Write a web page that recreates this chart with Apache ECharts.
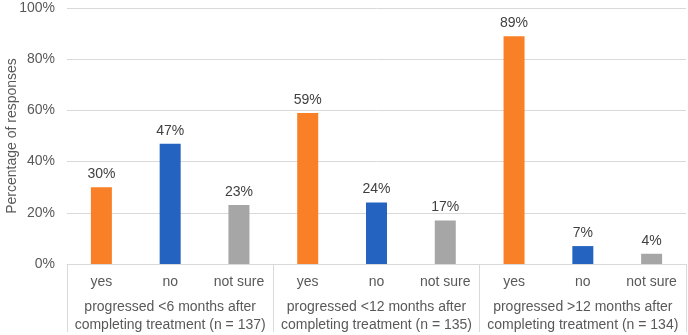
<!DOCTYPE html>
<html>
<head>
<meta charset="utf-8">
<script src="https://cdn.jsdelivr.net/npm/echarts@6/dist/echarts.min.js"></script>
<style>
  html, body { margin: 0; padding: 0; background: #fff; }
  #chart { width: 688px; height: 335px; }
</style>
</head>
<body>
<div id="chart"></div>
<script>
const answers = ['yes', 'no', 'not sure'];
const groups = [
  'progressed <6 months after\ncompleting treatment (n = 137)',
  'progressed <12 months after\ncompleting treatment (n = 135)',
  'progressed >12 months after\ncompleting treatment (n = 134)',
];
const percentages = [30, 47, 23, 59, 24, 17, 89, 7, 4];
const yTicks = [0, 20, 40, 60, 80, 100];
const answerColors = { yes: '#F98026', no: '#2563C1', 'not sure': '#A6A6A6' };

const categories = groups.flatMap(() => answers);

const chart = echarts.init(document.getElementById('chart'));
const font = 'Liberation Sans, Arial, sans-serif';

chart.setOption({
  animation: false,
  textStyle: { fontFamily: font },
  grid: { left: 67, right: 2, top: 8, bottom: 71, containLabel: false, outerBoundsMode: 'none' },
  xAxis: [
    {
      type: 'category',
      data: categories,
      axisLine: { show: true, lineStyle: { color: '#D9D9D9' } },
      axisTick: { show: false },
      axisLabel: { color: '#595959', fontSize: 14, margin: 11, interval: 0 },
    },
    {
      type: 'category',
      data: groups,
      position: 'bottom',
      axisLine: { show: false },
      axisTick: { show: true, length: 68, lineStyle: { color: '#D9D9D9' } },
      axisLabel: {
        color: '#595959', fontSize: 14, margin: 34, lineHeight: 18, interval: 0,
      },
    },
  ],
  yAxis: {
    type: 'value',
    min: yTicks[0],
    max: yTicks[yTicks.length - 1],
    interval: 20,
    name: 'Percentage of responses',
    nameLocation: 'middle',
    nameGap: 48,
    nameMoveOverlap: false,
    nameTextStyle: { color: '#595959', fontSize: 14 },
    axisLine: { show: false },
    axisTick: { show: false },
    axisLabel: { color: '#595959', fontSize: 14, margin: 12, formatter: '{value}%' },
    splitLine: { lineStyle: { color: '#D9D9D9' } },
  },
  series: [
    {
      type: 'bar',
      xAxisIndex: 0,
      barWidth: 21,
      data: percentages.map((v, i) => ({
        value: v,
        itemStyle: { color: answerColors[categories[i]] },
      })),
      label: {
        show: true,
        position: 'top',
        distance: 6,
        color: '#404040',
        fontSize: 14,
        formatter: '{c}%',
      },
    },
  ],
});
</script>
</body>
</html>
